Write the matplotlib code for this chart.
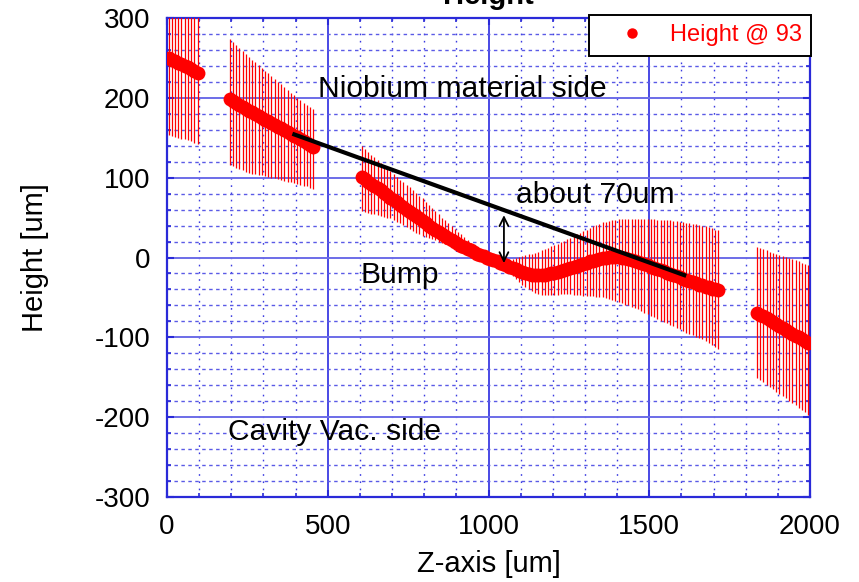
import matplotlib
matplotlib.use("Agg")
import matplotlib.pyplot as plt
import numpy as np
from matplotlib.lines import Line2D
from matplotlib.ticker import MultipleLocator

plt.rcParams['font.family'] = ['Liberation Sans', 'DejaVu Sans']
plt.rcParams['axes.unicode_minus'] = False

# ---------------- data ----------------
# segment 1
seg1_x = [5, 15, 25, 35, 45, 55, 65, 75, 85, 95]
seg1_y = [250, 248, 246, 244, 242, 240, 238, 236, 233, 231]
seg1_hi = [347, 344, 341, 338, 335, 332, 329, 326, 322, 320]
seg1_lo = [153, 152, 151, 150, 149, 148, 147, 146, 144, 142]

# segment 2
seg2_x = [195, 205, 215, 225, 235, 245, 255, 265, 275, 285, 295, 305, 315, 325,
          335, 345, 355, 365, 375, 385, 395, 405, 415, 425, 435, 445, 455]
seg2_y = [198.0, 195.6, 193.3, 191.0, 188.7, 186.4, 184.1, 181.8, 179.5, 177.3,
          175.0, 172.8, 170.6, 168.4, 166.2, 164.0, 161.7, 159.5, 157.3, 155.0,
          152.8, 150.5, 148.1, 145.6, 143.1, 140.5, 138.0]
seg2_hi = [274, 270, 266, 262.5, 259, 255, 251.5, 248, 244.5, 241, 237.5, 234,
           230.5, 227, 223.5, 220, 217, 213.5, 210, 206.5, 203, 200, 197, 194,
           191, 188.5, 186]
seg2_lo = [116, 114, 112.5, 111, 109, 107.5, 106, 105, 104, 103.5, 103, 102, 101,
           100, 99, 98, 97, 96, 95, 94, 93, 92, 91, 90, 89, 87.5, 86]

# segment 3
seg3_x = [605, 615, 625, 635, 645, 655, 665, 675, 685, 695, 705, 715, 725, 735,
          745, 755, 765, 775, 785, 795, 805, 815, 825, 835, 845, 855, 865, 875,
          885, 895, 905, 915, 925, 935, 945, 955, 965, 975, 985, 995, 1005, 1015,
          1025, 1035, 1045, 1055, 1065, 1075, 1085, 1095, 1105, 1115, 1125, 1135,
          1145, 1155, 1165, 1175, 1185, 1195, 1205, 1215, 1225, 1235, 1245, 1255,
          1265, 1275, 1285, 1295, 1305, 1315, 1325, 1335, 1345, 1355, 1365, 1375,
          1385, 1395, 1405, 1415, 1425, 1435, 1445, 1455, 1465, 1475, 1485, 1495,
          1505, 1515, 1525, 1535, 1545, 1555, 1565, 1575, 1585, 1595, 1605, 1615,
          1625, 1635, 1645, 1655, 1665, 1675, 1685, 1695, 1705, 1715]
seg3_y = [101, 98, 95, 92, 89.5, 87, 84, 81, 78, 75, 72, 69, 66, 63, 60, 57.5, 55,
          52, 49, 46, 43, 40, 37, 34, 31.5, 29, 26.5, 24, 21.5, 19, 17, 15, 13, 11,
          9, 7, 5, 3.5, 1.5, 0, -1.5, -3, -5, -7, -8.5, -10, -12, -13.5, -15, -17,
          -18, -19.5, -20.5, -21.5, -22, -22, -22, -21.5, -21, -20, -19, -18, -17,
          -16, -14.5, -13, -12, -10.5, -9, -8, -6.5, -5, -4, -3, -2, -1, 0, 0.5, 1,
          1, 0.5, 0, -1, -2, -3, -4, -5.5, -7, -8.5, -10, -11.5, -13, -14.5, -16,
          -17.5, -19, -20.5, -22, -23.5, -25, -26.5, -28, -29.5, -31, -32.5, -34,
          -35, -36.5, -37.5, -39, -40, -41]
seg3_hi = [140, 136, 132.5, 129, 125.5, 122, 118.5, 115, 111.5, 108, 104.5, 101,
           97.5, 94, 91, 88, 84.5, 81, 77.5, 74, 70, 66, 62, 58, 54, 50, 46.5, 43,
           39.5, 36, 32.5, 29, 25.5, 22, 18.5, 15, 12, 9, 6, 4, 2, 0.5, -1, -2, -3,
           -3, -2.5, -1.5, 0, 1, 2, 3, 4, 5, 6, 7.5, 9, 10.5, 12, 14, 16, 17.5,
           19.5, 21, 23, 25, 27, 29, 31, 33, 35, 37, 39, 41, 42.5, 44, 45, 46, 47,
           47.5, 48, 48, 48.5, 48.5, 48.5, 48.5, 48.5, 48.5, 48.5, 48, 48, 48,
           47.5, 47.5, 47, 47, 46.5, 46, 45.5, 45, 44, 43.5, 43, 42, 41.5, 41, 40,
           39, 38, 36.5, 35, 34]
seg3_lo = [58, 57, 56, 55, 54, 53, 52, 51, 50, 49, 47, 45, 43, 41, 38.5, 36, 33.5,
           31, 29, 27.5, 26, 24.5, 23, 21.5, 20, 18.5, 17, 15.5, 14, 13, 12, 11, 9.5,
           8, 6, 4.5, 3, 1.5, -0.5, -2, -3.5, -5.5, -7.5, -9.5, -11.5, -15, -19, -23,
           -27, -31, -34, -37, -40, -42, -44, -45.5, -46.5, -47, -47, -47, -46.5,
           -46.5, -46, -46, -46, -46, -46.5, -47, -47.5, -48, -48, -48.5, -48.5, -49,
           -49, -50, -51, -52, -53.5, -55, -56, -57.5, -59, -60, -61.5, -63, -65,
           -67, -69, -71, -73, -75, -77, -79, -81, -82.5, -84.5, -86, -88, -90, -92,
           -94, -95.5, -97, -99, -100.5, -102, -104, -106.5, -109, -112, -115]

# segment 4
seg4_x = [1835, 1845, 1855, 1865, 1875, 1885, 1895, 1905, 1915, 1925, 1935, 1945,
          1955, 1965, 1975, 1985, 1995]
seg4_y = [-69, -71.4, -73.8, -76.2, -78.6, -81, -83.4, -85.8, -88.2, -90.6, -93,
          -95.4, -97.8, -100.2, -102.6, -105, -107.4]
seg4_hi = [13, 11.6, 10.3, 8.9, 7.5, 6.1, 4.8, 3.4, 2, 0.6, -0.8, -2.1, -3.5,
           -4.9, -6.3, -7.6, -9]
seg4_lo = [-150.5, -153.4, -156.3, -159.2, -162.1, -165, -167.9, -170.8, -173.7,
           -176.6, -179.5, -182.4, -185.3, -188.2, -191.1, -194, -197]

# annotation guide line and arrow
trend_x = [390, 1615]
trend_y = [155, -23]
arrow_x = 1048
arrow_y = [53, -7]

x_ticks = [0, 500, 1000, 1500, 2000]
y_ticks = [-300, -200, -100, 0, 100, 200, 300]
legend_label = "Height @ 93"

# ---------------- figure ----------------
W, H = 859, 582
fig = plt.figure(figsize=(W / 100, H / 100), dpi=100)
ax = fig.add_axes([167 / W, 1 - 497 / H, (810 - 167) / W, (497 - 18) / H])

red = '#ff0000'
segments = [(seg1_x, seg1_y, seg1_lo, seg1_hi), (seg2_x, seg2_y, seg2_lo, seg2_hi),
            (seg3_x, seg3_y, seg3_lo, seg3_hi), (seg4_x, seg4_y, seg4_lo, seg4_hi)]
for sx, sy, slo, shi in segments:
    sy = np.asarray(sy, float)
    lo_err = np.clip(sy - np.asarray(slo, float), 0, None)
    hi_err = np.clip(np.asarray(shi, float) - sy, 0, None)
    ax.errorbar(sx, sy, yerr=[lo_err, hi_err], fmt='o', color=red, ms=10, mew=0,
                ecolor=red, elinewidth=0.9, capsize=2, capthick=0.9, zorder=3)

ax.plot(trend_x, trend_y, color='black', lw=3, solid_capstyle='butt', zorder=5)
ax.annotate('', xy=(arrow_x, arrow_y[1]), xytext=(arrow_x, arrow_y[0]),
            arrowprops=dict(arrowstyle='<->', color='black', lw=1.3,
                            mutation_scale=16, shrinkA=0, shrinkB=0), zorder=6)

fs_ann = 21.6
ax.text(470, 201, 'Niobium material side', fontsize=fs_ann, va='baseline', ha='left', zorder=7)
ax.text(1087, 68, 'about 70um', fontsize=fs_ann, va='baseline', ha='left', zorder=7)
ax.text(601, -32, 'Bump', fontsize=fs_ann, va='baseline', ha='left', zorder=7)
ax.text(189, -228, 'Cavity Vac. side', fontsize=fs_ann, va='baseline', ha='left', zorder=7)

ax.set_xlim(0, 2000)
ax.set_ylim(-300, 300)
ax.set_xticks(x_ticks)
ax.set_yticks(y_ticks)
ax.xaxis.set_minor_locator(MultipleLocator(100))
ax.yaxis.set_minor_locator(MultipleLocator(20))

blue = '#2a2ad8'
ax.set_axisbelow(True)
ax.xaxis.grid(True, which='major', color='#2a2ae0', lw=1.2, ls='-')
ax.yaxis.grid(True, which='major', color='#6c6ce8', lw=1.4, ls='-')
ax.xaxis.grid(True, which='minor', color='#3a3ae0', lw=1.0, ls=(0, (1.2, 4)))
ax.yaxis.grid(True, which='minor', color='#5a5ae6', lw=1.0, ls=(0, (2.5, 2.5)))
for s in ax.spines.values():
    s.set_color(blue)
    s.set_linewidth(1.6)

ax.tick_params(which='both', direction='in', top=True, right=True, color=blue)
ax.tick_params(which='major', length=5, width=1.5, labelsize=20, pad=12)
ax.tick_params(which='minor', length=3, width=1.2)

ax.set_xlabel('Z-axis [um]', fontsize=21)
ax.set_ylabel('Height [um]', fontsize=21)
ax.xaxis.label.set_va('center')
ax.yaxis.label.set_va('center')
ax.xaxis.set_label_coords(0.5, -0.14)
ax.yaxis.set_label_coords(-0.205, 0.5)

fig.text(488 / W, 1 - 3.5 / H, 'Height', ha='center', va='baseline',
         fontsize=21, fontweight='bold')

handle = Line2D([], [], marker='o', ls='none', color=red, ms=7.5, mew=0)
leg = ax.legend([handle], [legend_label], loc='upper right',
                bbox_to_anchor=(811 / W, 1 - 15 / H), bbox_transform=fig.transFigure,
                borderaxespad=0, fontsize=17, labelcolor=red, frameon=True,
                fancybox=False, edgecolor='black', framealpha=1,
                borderpad=0.4, handlelength=2.8, handletextpad=0.2)
leg.get_frame().set_linewidth(1.4)
leg.set_zorder(10)

fig.savefig('out.png', dpi=100)
